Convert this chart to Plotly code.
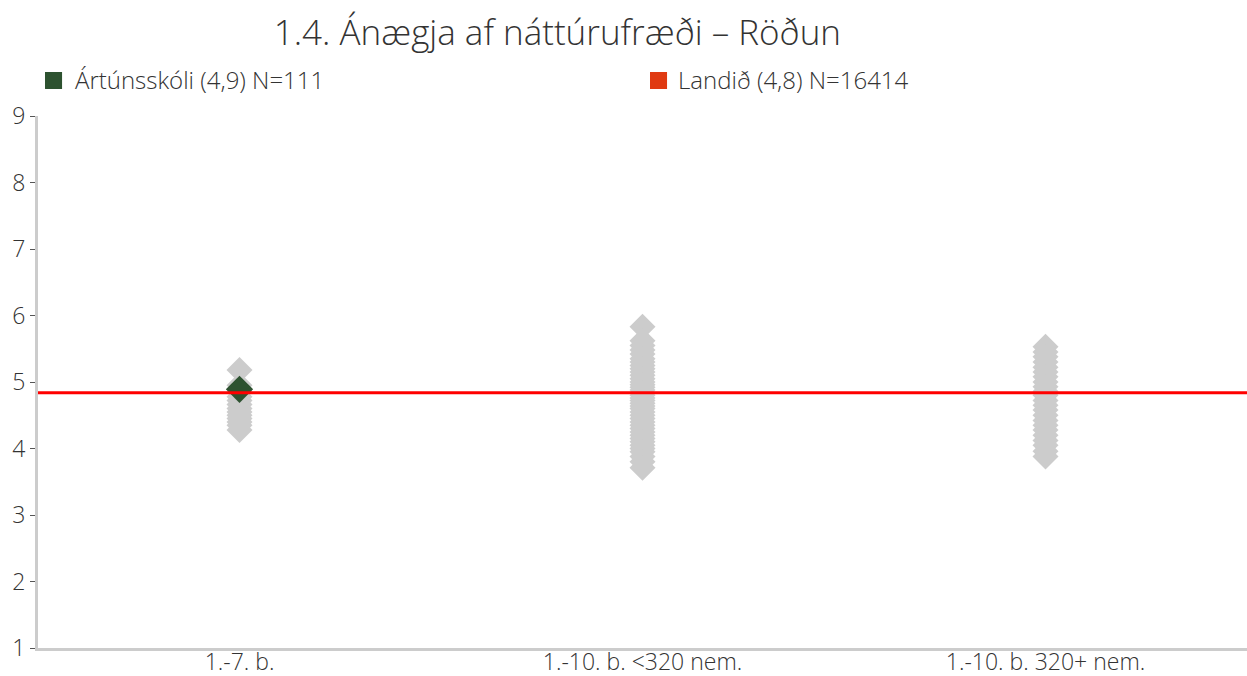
import plotly.graph_objects as go

categories = ["1.-7. b.", "1.-10. b. <320 nem.", "1.-10. b. 320+ nem."]

schools_cat1 = [5.18, 4.95, 4.85, 4.78, 4.72, 4.66, 4.6, 4.55, 4.5, 4.45, 4.4, 4.35, 4.28]
schools_cat2 = [5.83, 5.62, 5.55, 5.48, 5.42, 5.35, 5.3, 5.25, 5.2, 5.15, 5.1, 5.05, 5.0,
                4.96, 4.92, 4.88, 4.84, 4.8, 4.76, 4.72, 4.68, 4.64, 4.6, 4.55, 4.5,
                4.45, 4.4, 4.35, 4.3, 4.25, 4.2, 4.15, 4.1, 4.05, 4.0, 3.95, 3.88, 3.8, 3.71]
schools_cat3 = [5.53, 5.45, 5.38, 5.3, 5.22, 5.15, 5.08, 5.0, 4.93, 4.86, 4.8, 4.72,
                4.65, 4.58, 4.5, 4.42, 4.35, 4.28, 4.2, 4.12, 4.05, 3.96, 3.88]

school_category = "1.-7. b."
school_value = 4.89
national_value = 4.84

school_label = "Ártúnsskóli (4,9) N=111"
national_label = "Landið (4,8) N=16414"
title_text = "1.4. Ánægja af náttúrufræði – Röðun"

FONT = "Open Sans"
GREEN = "#2d5230"
RED_LEGEND = "#e03a12"
TXT = "#333333"

fig = go.Figure()

xs, ys = [], []
for cat, vals in zip(categories, [schools_cat1, schools_cat2, schools_cat3]):
    for v in vals:
        xs.append(cat)
        ys.append(v)

fig.add_trace(go.Scatter(
    x=xs, y=ys, mode="markers",
    marker=dict(symbol="diamond", size=20, color="#cccccc", line=dict(width=0)),
    showlegend=False, hoverinfo="y"))

fig.add_trace(go.Scatter(
    x=[school_category], y=[school_value], mode="markers",
    marker=dict(symbol="diamond", size=21, color=GREEN, line=dict(width=0)),
    showlegend=False))

fig.add_hline(y=national_value, line=dict(color="#ff0000", width=3), layer="above")

# legend: coloured squares + text
for (x0, x1, col) in [(0.0058, 0.0199, GREEN), (0.5062, 0.5203, RED_LEGEND)]:
    fig.add_shape(type="rect", xref="paper", yref="paper", x0=x0, x1=x1, y0=1.0508, y1=1.0827,
                  fillcolor=col, line=dict(width=0))
for (x, label) in [(0.029, school_label), (0.528, national_label)]:
    fig.add_annotation(xref="paper", yref="paper", x=x, y=1.0677, xanchor="left", yanchor="middle",
                       text=label, showarrow=False,
                       font=dict(family=FONT, size=24, color=TXT, weight=300))

fig.update_layout(
    width=1247, height=676,
    margin=dict(l=38, r=0, t=116, b=28),
    paper_bgcolor="white", plot_bgcolor="white",
    title=dict(text=title_text, x=0.447, xref="container", xanchor="center",
               y=0.951, yref="container", yanchor="middle",
               font=dict(family=FONT, size=35, color=TXT, weight=300)),
    font=dict(family=FONT, size=23, color=TXT, weight=300),
    xaxis=dict(type="category", categoryorder="array", categoryarray=categories,
               range=[-0.5, 2.5], showgrid=False, zeroline=False, automargin=False,
               showline=True, linecolor="#cccccc", linewidth=3,
               ticks="", ticklabelstandoff=-9,
               tickfont=dict(family=FONT, size=23, color=TXT, weight=300)),
    yaxis=dict(range=[1, 9], dtick=1, showgrid=False, zeroline=False, automargin=False,
               showline=True, linecolor="#cccccc", linewidth=3,
               ticks="outside", ticklen=5, tickcolor="#555555", tickwidth=1,
               tickfont=dict(family=FONT, size=23, color=TXT, weight=300)),
)

fig.write_html("out.html", config={"displayModeBar": False},
               post_script="document.body.style.margin='0px';")
